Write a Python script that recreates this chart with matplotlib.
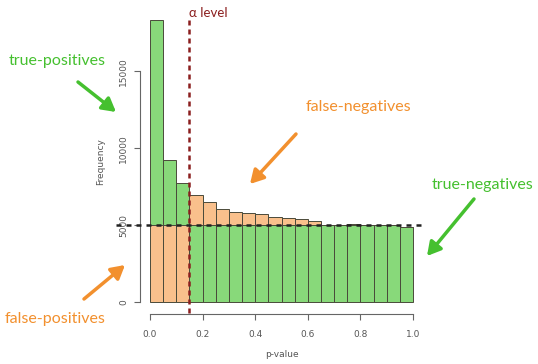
import matplotlib
matplotlib.use("Agg")
import matplotlib.pyplot as plt
import numpy as np

# ---- data ----
bin_left = [0.00, 0.05, 0.10, 0.15, 0.20, 0.25, 0.30, 0.35, 0.40, 0.45,
            0.50, 0.55, 0.60, 0.65, 0.70, 0.75, 0.80, 0.85, 0.90, 0.95]
counts = [18310, 9220, 7730, 6950, 6490, 6040, 5840, 5810, 5750, 5520,
          5450, 5420, 5290, 5030, 5020, 5100, 5020, 5000, 5010, 4870]
null_level = 5000
alpha = 0.15
bin_width = 0.05
x_ticks = [0.0, 0.2, 0.4, 0.6, 0.8, 1.0]
y_ticks = [0, 5000, 10000, 15000]

GREEN = "#88d97a"
ORANGE = "#f9c08c"
EDGE = "#4a4a3a"
TXT_GREEN = "#45c02f"
TXT_ORANGE = "#f2902e"
DARKRED = "#8b1e1e"

W, H = 538, 364
fig = plt.figure(figsize=(W / 100, H / 100), dpi=100)
left_px, right_px = 139.5, 423.5
top_px, bot_px = 9, 313.5
ax = fig.add_axes([left_px / W, 1 - bot_px / H, (right_px - left_px) / W, (bot_px - top_px) / H])
ax.set_xlim(-0.04, 1.04)
ax.set_ylim(-750, 19050)

bl = np.array(bin_left)
c = np.array(counts, dtype=float)
is_sig = bl < alpha - 1e-9
low = np.minimum(c, null_level)
high = np.maximum(c - null_level, 0)
low_col = [ORANGE if s else GREEN for s in is_sig]
high_col = [GREEN if s else ORANGE for s in is_sig]
ax.bar(bl, low, width=bin_width, align="edge", color=low_col, edgecolor=EDGE, linewidth=0.7)
ax.bar(bl, high, bottom=low, width=bin_width, align="edge", color=high_col, edgecolor=EDGE, linewidth=0.7)

# reference lines
ax.plot([-0.13, 1.05], [null_level, null_level], color="#222222", lw=1.8,
        dashes=(2, 2), clip_on=False, zorder=5)
ax.plot([alpha, alpha], [-700, 18450], color=DARKRED, lw=1.8,
        dashes=(2, 1.6), clip_on=False, zorder=6)

# R-style axes
for s in ["top", "right"]:
    ax.spines[s].set_visible(False)
ax.spines["left"].set_bounds(0, 15000)
ax.spines["bottom"].set_bounds(0, 1)
for s in ["left", "bottom"]:
    ax.spines[s].set_color("#666666")
    ax.spines[s].set_linewidth(0.8)
ax.set_xticks(x_ticks)
ax.set_xticklabels([f"{v:.1f}" for v in x_ticks])
ax.set_yticks(y_ticks)
ax.set_yticklabels([str(v) for v in y_ticks], rotation=90, va="center")
ax.tick_params(colors="#666666", labelcolor="#555555", labelsize=6.5, length=4, width=0.8)
ax.tick_params(axis="x", pad=8)
ax.tick_params(axis="y", pad=4)
ax.set_xlabel("p-value", fontsize=6.5, color="#555555", labelpad=8)
ax.set_ylabel("Frequency", fontsize=6.5, color="#555555", labelpad=10)

# annotations (figure pixel coords, y from top)
def fp(x, y):
    return (x, H - y)

fam = ["Lato", "DejaVu Sans"]
fig.text(208 / W, 1 - 13 / H, "α level", color=DARKRED, fontsize=9.5, ha="center", va="center", family=fam)

labels = [
    ("true-positives", TXT_GREEN, (57, 61), (78, 82), (116, 112)),
    ("false-negatives", TXT_ORANGE, (358, 107), (296, 134), (250, 184)),
    ("true-negatives", TXT_GREEN, (483, 185), (474, 199), (427, 256)),
    ("false-positives", TXT_ORANGE, (55, 319), (84, 299), (125, 265)),
]
for txt, col, tpos, tail, head in labels:
    fig.text(tpos[0] / W, 1 - tpos[1] / H, txt, color=col, fontsize=11.5,
             ha="center", va="center", family=fam)
    ax.annotate("", xy=fp(*head), xycoords="figure pixels",
                xytext=fp(*tail), textcoords="figure pixels",
                arrowprops=dict(arrowstyle="-|>,head_length=0.8,head_width=0.45",
                                color=col, lw=2.5, shrinkA=0, shrinkB=0),
                annotation_clip=False)

fig.savefig("out.png", dpi=100, facecolor="white")
